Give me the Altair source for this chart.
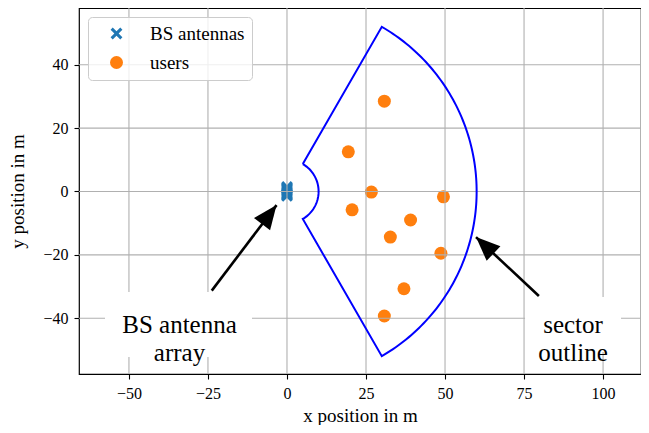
import math
import numpy as np
import pandas as pd
import altair as alt

# ---------------- data ----------------
ant_x = [0, 0, 0, 0, 0, 0, 0, 0]
ant_y = [-1.4, -1.0, -0.6, -0.2, 0.2, 0.6, 1.0, 1.4]

user_x = [30.8, 19.4, 26.7, 20.6, 49.5, 39.1, 32.7, 48.7, 37.0, 30.8]
user_y = [28.5, 12.5, -0.2, -5.8, -1.7, -9.0, -14.4, -19.5, -30.7, -39.3]

kinds = ["BS antennas", "users"]

sector_r_inner = 10
sector_r_outer = 60
sector_half_angle = 60  # degrees

x_ticks = [-50, -25, 0, 25, 50, 75, 100]
y_ticks = [-40, -20, 0, 20, 40]

ann_text = ["BS antenna\narray", "sector\noutline"]
ann_x = [-34.0, 90.5]
ann_y = [-42.1, -42.1]
arrow_tail_x = [-23.8, 79.7]
arrow_tail_y = [-31.3, -33.0]
arrow_tip_x = [-3.3, 59.8]
arrow_tip_y = [-4.3, -14.4]

# ---------------- tables ----------------
pts = pd.DataFrame({
    "x": ant_x + user_x,
    "y": ant_y + user_y,
    "kind": [kinds[0]] * len(ant_x) + [kinds[1]] * len(user_x),
})

a_out = np.linspace(sector_half_angle, -sector_half_angle, 121)
a_in = np.linspace(-sector_half_angle, sector_half_angle, 41)
sx = [sector_r_inner * math.cos(math.radians(sector_half_angle))]
sy = [sector_r_inner * math.sin(math.radians(sector_half_angle))]
sx += list(sector_r_outer * np.cos(np.radians(a_out)))
sy += list(sector_r_outer * np.sin(np.radians(a_out)))
sx += list(sector_r_inner * np.cos(np.radians(a_in)))
sy += list(sector_r_inner * np.sin(np.radians(a_in)))
sector = pd.DataFrame({"x": sx, "y": sy, "o": range(len(sx))})

arrows = pd.DataFrame({
    "x": arrow_tail_x, "y": arrow_tail_y,
    "x2": arrow_tip_x, "y2": arrow_tip_y,
})
arrows["angle"] = [
    (math.degrees(math.atan2(x2 - x1, y2 - y1)) + 360) % 360
    for x1, y1, x2, y2 in zip(arrow_tail_x, arrow_tail_y, arrow_tip_x, arrow_tip_y)
]

ann = pd.DataFrame({"x": ann_x, "y": ann_y, "t": ann_text})

FONT = "Liberation Serif"
XPATH = ("M 0.64 -1 L 1 -0.64 L 0.36 0 L 1 0.64 L 0.64 1 L 0 0.36 "
         "L -0.64 1 L -1 0.64 L -0.36 0 L -1 -0.64 L -0.64 -1 L 0 -0.36 Z")
HEAD = "M 0 0 L -0.42 1 L 0.42 1 Z"

xs = alt.Scale(domain=[-65.8, 112.0], nice=False, zero=False)
ys = alt.Scale(domain=[-57.6, 57.9], nice=False, zero=False)

def ax(title, values, tpad):
    return alt.Axis(
        title=title, values=values, grid=False, domain=False,
        tickColor="black", tickSize=5, tickWidth=1.1,
        labelColor="black", labelFont=FONT, labelFontSize=16, labelPadding=6,
        labelFlush=False,
        titleColor="black", titleFont=FONT, titleFontSize=19,
        titleFontWeight="normal", titlePadding=tpad,
    )

leg = alt.Legend(
    title=None, orient="top-left", offset=9, padding=7,
    fillColor="rgba(255,255,255,0.8)", strokeColor="#cccccc", cornerRadius=4,
    labelFont=FONT, labelFontSize=19, labelColor="black",
    symbolSize=150, symbolOffset=12, labelOffset=24, rowPadding=9,
    symbolStrokeWidth=0, zindex=1,
)

points = alt.Chart(pts).mark_point(filled=True, opacity=1).encode(
    x=alt.X("x:Q", scale=xs, axis=ax("x position in m", x_ticks, 5)),
    y=alt.Y("y:Q", scale=ys, axis=ax("y position in m", y_ticks, 15)),
    color=alt.Color("kind:N", scale=alt.Scale(domain=kinds, range=["#1f77b4", "#ff7f0e"]), legend=leg),
    shape=alt.Shape("kind:N", scale=alt.Scale(domain=kinds, range=[XPATH, "circle"]), legend=leg),
    size=alt.Size("kind:N", scale=alt.Scale(domain=kinds, range=[140, 169]), legend=None),
)

gx = alt.Chart(pd.DataFrame({"x": x_ticks})).mark_rule(color="#b0b0b0", strokeWidth=1.1).encode(
    x=alt.X("x:Q", scale=xs))
gy = alt.Chart(pd.DataFrame({"y": y_ticks})).mark_rule(color="#b0b0b0", strokeWidth=1.1).encode(
    y=alt.Y("y:Q", scale=ys))

sector_line = alt.Chart(sector).mark_line(color="#0000ff", strokeWidth=2).encode(
    x=alt.X("x:Q", scale=xs), y=alt.Y("y:Q", scale=ys), order="o:Q")

shaft = alt.Chart(arrows).mark_rule(color="black", strokeWidth=2.6).encode(
    x=alt.X("x:Q", scale=xs), y=alt.Y("y:Q", scale=ys), x2="x2:Q", y2="y2:Q")
head = alt.Chart(arrows).mark_point(shape=HEAD, filled=True, color="black", opacity=1, size=2304).encode(
    x=alt.X("x2:Q", scale=xs), y=alt.Y("y2:Q", scale=ys),
    angle=alt.Angle("angle:Q", scale=None))

box1 = alt.Chart(ann.iloc[[0]]).mark_rect(
    color="white", cornerRadius=6, xOffset=-74.5, x2Offset=72.5, yOffset=-33, y2Offset=32
).encode(x=alt.X("x:Q", scale=xs), x2="x:Q", y=alt.Y("y:Q", scale=ys), y2="y:Q")
box2 = alt.Chart(ann.iloc[[1]]).mark_rect(
    color="white", cornerRadius=6, xOffset=-48, x2Offset=48, yOffset=-28, y2Offset=27
).encode(x=alt.X("x:Q", scale=xs), x2="x:Q", y=alt.Y("y:Q", scale=ys), y2="y:Q")

texts = alt.Chart(ann).mark_text(
    font=FONT, fontSize=25, color="black", lineBreak="\n", lineHeight=28,
    align="center", baseline="middle"
).encode(x=alt.X("x:Q", scale=xs), y=alt.Y("y:Q", scale=ys), text="t:N")

chart = alt.layer(points, gx, gy, sector_line, shaft, head, box1, box2, texts).properties(
    width=562, height=366,
    padding={"left": 71, "top": 0, "right": 0, "bottom": 51},
    autosize=alt.AutoSizeParams(type="none"),
).configure(
    background="white", font=FONT,
).configure_view(
    stroke="black", strokeWidth=1.2,
).configure_axis(
    labelFont=FONT, titleFont=FONT,
).configure_legend(
    labelFont=FONT,
)

chart.save("out.html", embed_options={"renderer": "svg", "actions": False})
